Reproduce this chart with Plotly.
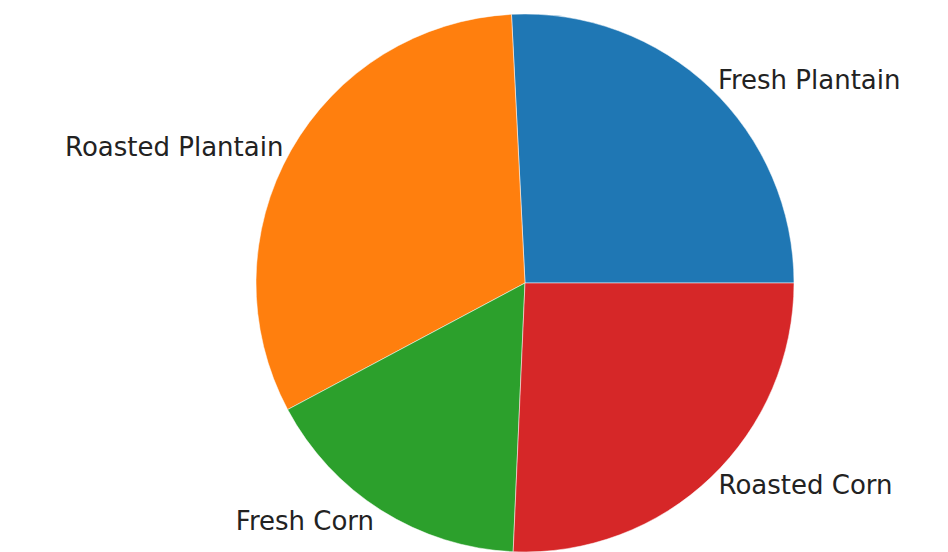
import plotly.graph_objects as go

labels = ["Fresh Plantain", "Roasted Plantain", "Fresh Corn", "Roasted Corn"]
values = [25.8, 32.0, 16.5, 25.7]
colors = ["#1f77b4", "#ff7f0e", "#2ca02c", "#d62728"]

W, H = 948, 552
cx, cy = 525, 283
r = 269

# matplotlib-style: first wedge starts at 3 o'clock and runs counter-clockwise.
# plotly (ccw) puts the END of the first slice at the rotation line.
first_angle = 360.0 * values[0] / sum(values)
rotation = 90 - first_angle

fig = go.Figure(go.Pie(
    labels=labels,
    values=values,
    sort=False,
    direction="counterclockwise",
    rotation=rotation,
    marker=dict(colors=colors, line=dict(color="white", width=0.5)),
    textinfo="label",
    textposition="outside",
    textfont=dict(family="DejaVu Sans", size=26, color="#222222"),
    showlegend=False,
    hoverinfo="label+percent",
    domain=dict(x=[(cx - r) / W, (cx + r) / W], y=[(H - cy - r) / H, (H - cy + r) / H]),
    automargin=False,
))
fig.update_layout(
    width=W, height=H,
    margin=dict(l=0, r=0, t=0, b=0),
    paper_bgcolor="white",
    plot_bgcolor="white",
)
fig.write_html("out.html", config={"displayModeBar": False},
               post_script="document.body.style.margin='0';document.body.style.overflow='hidden';")
